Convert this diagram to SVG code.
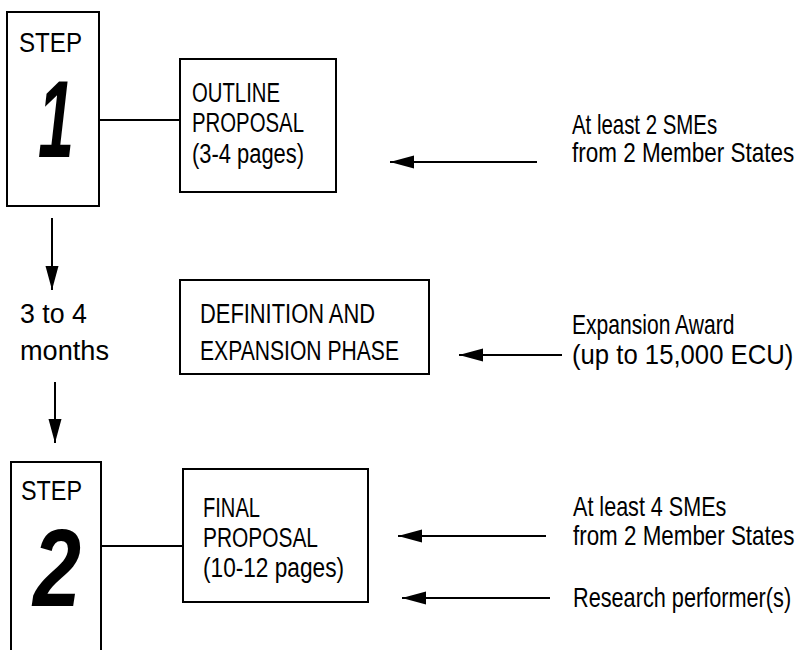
<svg xmlns="http://www.w3.org/2000/svg" width="798" height="650" viewBox="0 0 798 650">
<style>
.box{fill:none;stroke:#000;stroke-width:2}
.t{font-family:"Liberation Sans",Arial,sans-serif;font-size:27px;fill:#000}
.big{font-family:"Liberation Sans",Arial,sans-serif;font-size:109px;font-weight:bold;font-style:italic;fill:#000}
.ln{fill:none;stroke:#000;stroke-width:2}
</style>
<defs>
<marker id="ah" markerUnits="userSpaceOnUse" markerWidth="26" markerHeight="16" viewBox="0 0 26 16" refX="24" refY="8" orient="auto">
<path d="M0,1.5 L24,8 L0,14.5 Z" fill="#000"/>
</marker>
</defs>
<rect width="798" height="650" fill="#fff"/>
<g id="step1">
<rect class="box" x="7" y="12" width="92" height="194"/>
<text class="t" x="19" y="52" textLength="63" lengthAdjust="spacingAndGlyphs">STEP</text>
<text class="big" x="38" y="157" textLength="36" lengthAdjust="spacingAndGlyphs">1</text>
</g>
<g id="outline">
<rect class="box" x="180" y="59" width="156" height="133"/>
<text class="t" x="192" y="102" textLength="88" lengthAdjust="spacingAndGlyphs">OUTLINE</text>
<text class="t" x="192" y="132" textLength="112" lengthAdjust="spacingAndGlyphs">PROPOSAL</text>
<text class="t" x="192" y="163" textLength="112" lengthAdjust="spacingAndGlyphs">(3-4 pages)</text>
</g>
<g id="sme1">
<text class="t" transform="translate(572,134) scale(0.82,1)" textLength="177" lengthAdjust="spacingAndGlyphs">At least 2 SMEs</text>
<text class="t" transform="translate(572,162) scale(0.82,1)" textLength="271" lengthAdjust="spacingAndGlyphs">from 2 Member States</text>
</g>
<g id="months">
<text class="t" x="20" y="323" textLength="67" lengthAdjust="spacingAndGlyphs">3 to 4</text>
<text class="t" x="20" y="360" textLength="89" lengthAdjust="spacingAndGlyphs">months</text>
</g>
<g id="definition">
<rect class="box" x="180" y="280" width="249" height="94"/>
<text class="t" x="200" y="323" textLength="175" lengthAdjust="spacingAndGlyphs">DEFINITION AND</text>
<text class="t" x="200" y="360" textLength="199" lengthAdjust="spacingAndGlyphs">EXPANSION PHASE</text>
</g>
<g id="award">
<text class="t" transform="translate(572,334) scale(0.82,1)" textLength="198" lengthAdjust="spacingAndGlyphs">Expansion Award</text>
<text class="t" transform="translate(572,364) scale(0.82,1)" textLength="270" lengthAdjust="spacingAndGlyphs">(up to 15,000 ECU)</text>
</g>
<g id="step2">
<path class="box" d="M11,652 V462 H101 V652"/>
<text class="t" x="21" y="500" textLength="61" lengthAdjust="spacingAndGlyphs">STEP</text>
<text class="big" x="33" y="606" textLength="48" lengthAdjust="spacingAndGlyphs">2</text>
</g>
<g id="final">
<rect class="box" x="183" y="469" width="185" height="133"/>
<text class="t" x="203" y="517" textLength="57" lengthAdjust="spacingAndGlyphs">FINAL</text>
<text class="t" x="203" y="547" textLength="115" lengthAdjust="spacingAndGlyphs">PROPOSAL</text>
<text class="t" x="203" y="577" textLength="141" lengthAdjust="spacingAndGlyphs">(10-12 pages)</text>
</g>
<g id="sme2">
<text class="t" transform="translate(573,516) scale(0.82,1)" textLength="187" lengthAdjust="spacingAndGlyphs">At least 4 SMEs</text>
<text class="t" transform="translate(573,545) scale(0.82,1)" textLength="270" lengthAdjust="spacingAndGlyphs">from 2 Member States</text>
</g>
<g id="research">
<text class="t" transform="translate(573,607) scale(0.82,1)" textLength="266" lengthAdjust="spacingAndGlyphs">Research performer(s)</text>
</g>
<g id="connectors">
<line class="ln" x1="99" y1="120" x2="180" y2="120"/>
<line class="ln" x1="102" y1="546" x2="183" y2="546"/>
<line class="ln" x1="52" y1="218" x2="52" y2="290" marker-end="url(#ah)"/>
<line class="ln" x1="55" y1="382" x2="55" y2="443" marker-end="url(#ah)"/>
<line class="ln" x1="537" y1="162" x2="390" y2="162" marker-end="url(#ah)"/>
<line class="ln" x1="562" y1="355" x2="459" y2="355" marker-end="url(#ah)"/>
<line class="ln" x1="546" y1="536" x2="398" y2="536" marker-end="url(#ah)"/>
<line class="ln" x1="550" y1="598" x2="402" y2="598" marker-end="url(#ah)"/>
</g>
</svg>
